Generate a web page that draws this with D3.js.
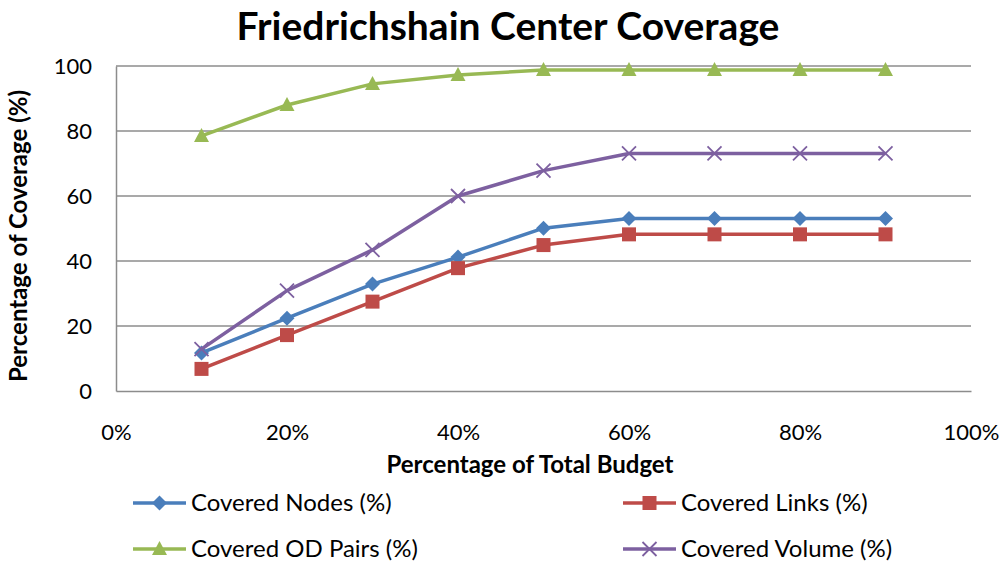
<!DOCTYPE html>
<head>
  <meta charset="utf-8">
  <script src="https://d3js.org/d3.v7.min.js"></script>
  <style>
    body { margin:0; background:#fff; }
    text { font-family: Lato, "Open Sans", sans-serif; fill:#000; }
  </style>
</head>
<body>
<svg id="chart" width="1008" height="563"></svg>
<script>
  // data
  var budget = [0.1, 0.2, 0.3, 0.4, 0.5, 0.6, 0.7, 0.8, 0.9];
  var nodes  = [11.7, 22.4, 32.9, 41.2, 50.1, 53.1, 53.1, 53.1, 53.1];
  var links  = [6.8, 17.2, 27.5, 37.8, 44.9, 48.2, 48.2, 48.2, 48.2];
  var odPairs = [78.5, 88.0, 94.5, 97.2, 98.8, 98.8, 98.8, 98.8, 98.8];
  var volume = [12.9, 30.9, 43.4, 60.0, 67.8, 73.1, 73.1, 73.1, 73.1];
  var seriesNames = ["Covered Nodes (%)", "Covered Links (%)", "Covered OD Pairs (%)", "Covered Volume (%)"];
  var xTicks = [0, 0.2, 0.4, 0.6, 0.8, 1.0];
  var yTicks = [0, 20, 40, 60, 80, 100];

  var series = [
    {name: seriesNames[0], values: nodes,   color: "#4A7EBB", marker: "diamond"},
    {name: seriesNames[1], values: links,   color: "#BE4B48", marker: "square"},
    {name: seriesNames[2], values: odPairs, color: "#98B954", marker: "triangle"},
    {name: seriesNames[3], values: volume,  color: "#7D60A0", marker: "cross"}
  ];

  var svg = d3.select("#chart");
  var plotL = 116, plotR = 971, plotT = 66, plotB = 391;

  var x = d3.scaleLinear().domain([0, 1]).range([plotL, plotR]);
  var y = d3.scaleLinear().domain([0, 100]).range([plotB, plotT]);

  svg.append("text")
    .attr("x", 508).attr("y", 40)
    .attr("text-anchor", "middle")
    .style("font-size", "39px").style("font-weight", "bold")
    .text("Friedrichshain Center Coverage");

  // gridlines
  svg.append("g").selectAll("line").data(yTicks.slice(1)).enter().append("line")
    .attr("x1", plotL).attr("x2", plotR)
    .attr("y1", function(d){ return y(d); }).attr("y2", function(d){ return y(d); })
    .attr("stroke", "#8c8c8c").attr("stroke-width", 1.5);

  // axes
  var yAxis = svg.append("g").attr("transform", "translate(" + plotL + ",0)")
    .call(d3.axisLeft(y).tickValues(yTicks).tickSize(0).tickPadding(24));
  var xAxis = svg.append("g").attr("transform", "translate(0," + plotB + ")")
    .call(d3.axisBottom(x).tickValues(xTicks).tickSize(0).tickPadding(33).tickFormat(d3.format(".0%")));
  [xAxis, yAxis].forEach(function(a){
    a.select(".domain").attr("stroke", "#8c8c8c").attr("stroke-width", 1.5);
    a.selectAll("text").style("font-size", "22px").style("font-family", "Lato, 'Open Sans', sans-serif").attr("fill", "#000");
  });

  svg.append("text")
    .attr("x", 530).attr("y", 473)
    .attr("text-anchor", "middle")
    .style("font-size", "24px").style("font-weight", "bold")
    .text("Percentage of Total Budget");

  svg.append("text")
    .attr("transform", "translate(27,236) rotate(-90)")
    .attr("text-anchor", "middle")
    .style("font-size", "24px").style("font-weight", "bold")
    .text("Percentage of Coverage (%)");

  function drawMarker(g, type, color) {
    if (type === "diamond") {
      g.append("path").attr("d", "M0,-7.5L7.5,0L0,7.5L-7.5,0Z").attr("fill", color);
    } else if (type === "square") {
      g.append("rect").attr("x", -7).attr("y", -7).attr("width", 14).attr("height", 14).attr("fill", color);
    } else if (type === "triangle") {
      g.append("path").attr("d", "M0,-8L7.5,6L-7.5,6Z").attr("fill", color);
    } else {
      g.append("path").attr("d", "M-7,-7L7,7M7,-7L-7,7").attr("stroke", color).attr("stroke-width", 1.8);
    }
  }

  var line = d3.line()
    .x(function(d, i){ return x(budget[i]); })
    .y(function(d){ return y(d); });

  series.forEach(function(s){
    svg.append("path").datum(s.values)
      .attr("fill", "none").attr("stroke", s.color).attr("stroke-width", 3.5)
      .attr("stroke-linejoin", "round")
      .attr("d", line);
    s.values.forEach(function(v, i){
      var g = svg.append("g").attr("transform", "translate(" + x(budget[i]) + "," + y(v) + ")");
      drawMarker(g, s.marker, s.color);
    });
  });

  // legend
  var legendPos = [[133, 503], [623, 503], [133, 549], [623, 549]];
  series.forEach(function(s, i){
    var lx = legendPos[i][0], ly = legendPos[i][1];
    svg.append("line").attr("x1", lx).attr("x2", lx + 53).attr("y1", ly).attr("y2", ly)
      .attr("stroke", s.color).attr("stroke-width", 3.5);
    var g = svg.append("g").attr("transform", "translate(" + (lx + 26.5) + "," + ly + ")");
    drawMarker(g, s.marker, s.color);
    svg.append("text").attr("x", lx + 58).attr("y", ly + 8)
      .style("font-size", "24px").text(s.name);
  });
</script>
</body>
